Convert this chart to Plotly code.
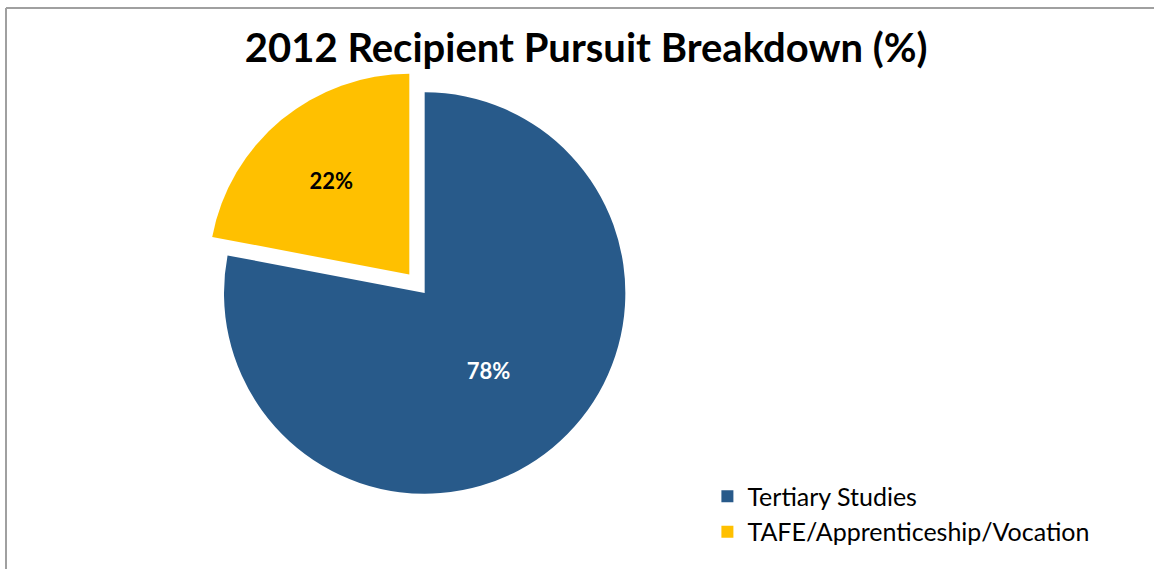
import plotly.graph_objects as go

categories = ["Tertiary Studies", "TAFE/Apprenticeship/Vocation"]
values = [78, 22]
colors = ["#285A8A", "#FFC000"]
text_colors = ["white", "black"]
pulls = [0, 0.12]

fig = go.Figure(
    go.Pie(
        labels=categories,
        values=values,
        sort=False,
        direction="clockwise",
        rotation=0,
        pull=pulls,
        marker=dict(colors=colors, line=dict(color="white", width=0)),
        textinfo="percent",
        texttemplate="%{percent:.0%}",
        textposition="inside",
        insidetextorientation="horizontal",
        textfont=dict(family="Lato", size=22, color=text_colors, weight="bold"),
        domain=dict(x=[0.173, 0.563], y=[0.09, 0.88]),
        hoverinfo="label+percent",
    )
)

fig.update_layout(
    width=1154,
    height=569,
    paper_bgcolor="white",
    plot_bgcolor="white",
    margin=dict(l=0, r=0, t=0, b=0),
    title=dict(
        text="<b>2012 Recipient Pursuit Breakdown (%)</b>",
        x=0.508,
        xanchor="center",
        y=0.915,
        yanchor="middle",
        font=dict(family="Lato", size=40, color="black"),
    ),
    legend=dict(
        x=0.613,
        xanchor="left",
        y=0.168,
        yanchor="top",
        font=dict(family="Lato", size=25, color="black"),
        itemwidth=30,
        bgcolor="rgba(0,0,0,0)",
    ),
    shapes=[
        dict(
            type="line",
            xref="paper",
            yref="paper",
            x0=6 / 1154,
            x1=1.3,
            y0=1 - 8 / 569,
            y1=1 - 8 / 569,
            line=dict(color="#A0A0A0", width=2),
            layer="below",
        ),
        dict(
            type="line",
            xref="paper",
            yref="paper",
            x0=6 / 1154,
            x1=6 / 1154,
            y0=-0.3,
            y1=1 - 8 / 569,
            line=dict(color="#A0A0A0", width=2),
            layer="below",
        ),
    ],
)

fig.write_html(
    "out.html",
    config={"displayModeBar": False},
    post_script="document.body.style.margin='0';document.body.style.overflow='hidden';",
)
